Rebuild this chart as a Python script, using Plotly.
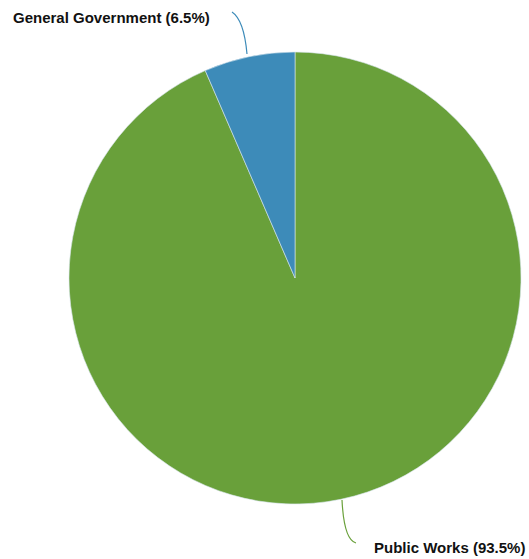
import plotly.graph_objects as go

labels = ["Public Works", "General Government"]
values = [93.5, 6.5]
colors = ["#69a03a", "#3d8bb9"]

W, H = 529, 559

def px(x, y):
    return x / W, 1 - y / H

fig = go.Figure(go.Pie(
    labels=labels, values=values, sort=False, direction="clockwise",
    rotation=0, textinfo="none", hoverinfo="label+percent",
    marker=dict(colors=colors, line=dict(color="#d9e6ee", width=0.6)),
    domain=dict(x=[69 / W, 521 / W], y=[55 / H, 507 / H]),
    showlegend=False,
))

label_pos = [(372, 547, "left"), (11, 18, "left")]
conn = [((342, 500), (344, 540), (356, 543)), ((232, 12), (244, 20), (247, 54))]
annotations = []
shapes = []
for lab, val, col, (lx, ly, anc), (p0, pc, p1) in zip(labels, values, colors, label_pos, conn):
    ax, ay = px(lx, ly)
    annotations.append(dict(x=ax, y=ay, xref="paper", yref="paper", xanchor=anc, yanchor="middle",
                            text=f"<b>{lab} ({val}%)</b>", showarrow=False,
                            font=dict(family="Liberation Sans, Arial", size=15, color="#111")))
    a = px(*p0); c = px(*pc); b = px(*p1)
    shapes.append(dict(type="path", xref="paper", yref="paper",
                       path=f"M {a[0]},{a[1]} Q {c[0]},{c[1]} {b[0]},{b[1]}",
                       line=dict(color=col, width=1.2)))

fig.update_layout(width=W, height=H, margin=dict(l=0, r=0, t=0, b=0),
                  paper_bgcolor="white", plot_bgcolor="white",
                  annotations=annotations, shapes=shapes)
fig.write_html("out.html")
